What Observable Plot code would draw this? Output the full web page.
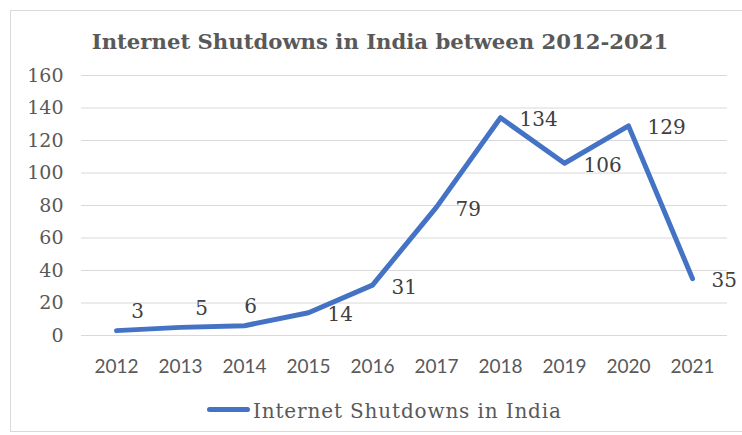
<!DOCTYPE html>
<html>
<head>
<meta charset="utf-8">
<script src="https://cdn.jsdelivr.net/npm/d3@7"></script>
<script src="https://cdn.jsdelivr.net/npm/@observablehq/plot@0.6"></script>
<style>
  html, body { margin: 0; padding: 0; background: #fff; }
  #wrap { position: relative; width: 742px; height: 435px; overflow: hidden; background: #fff; }
  #frame { position: absolute; left: 10px; top: 10px; width: 760px; height: 422px; border: 1px solid #d9d9d9; box-sizing: border-box; }
  #title { position: absolute; left: 0; width: 760px; top: 28px; text-align: center; font-family: "DejaVu Serif", serif; font-weight: bold; font-size: 21.2px; color: #595959; line-height: 28px; }
  #chart { position: absolute; left: 0; top: 55px; }
  #legend { position: absolute; left: 207px; top: 396px; height: 26px; display: flex; align-items: center; font-family: "DejaVu Serif", serif; font-size: 20px; letter-spacing: 0.85px; color: #595959; }
  #legend .sw { width: 43px; height: 5px; background: #4472C4; border-radius: 3px; margin-right: 3px; }
  #legendText { position: relative; top: 2px; }
</style>
</head>
<body>
<div id="wrap">
  <div id="frame"></div>
  <div id="title"></div>
  <div id="chart"></div>
  <div id="legend"><span class="sw"></span><span id="legendText"></span></div>
</div>
<script>
// ---- data ----
const titleText = "Internet Shutdowns in India between 2012-2021";
const seriesName = "Internet Shutdowns in India";
const years = ["2012", "2013", "2014", "2015", "2016", "2017", "2018", "2019", "2020", "2021"];
const shutdowns = [3, 5, 6, 14, 31, 79, 134, 106, 129, 35];
const yTicks = [0, 20, 40, 60, 80, 100, 120, 140, 160];

// ---- build ----
document.getElementById("title").textContent = titleText;
document.getElementById("legendText").textContent = seriesName;

const rows = years.map((y, i) => ({year: y, value: shutdowns[i]}));

// Excel-like label placement: small early values sit above, others to the right
const aboveLabels = {"2012": 21, "2013": 21, "2014": 6};
const rightRows = rows.filter(d => !(d.year in aboveLabels));
const aboveRows = rows.filter(d => d.year in aboveLabels);

const serif = "DejaVu Serif";
const grey = "#595959";

const chart = Plot.plot({
  width: 742,
  height: 330,
  marginTop: 20,
  marginBottom: 50,
  marginLeft: 81,
  marginRight: 15,
  style: {background: "transparent", overflow: "visible"},
  x: {type: "point", domain: years, padding: 0.5, label: null},
  y: {domain: [0, 160], label: null},
  marks: [
    Plot.ruleY(yTicks, {stroke: "#d9d9d9", strokeWidth: 1}),
    Plot.axisY({ticks: yTicks, tickSize: 0, tickPadding: 18, label: null,
      fontFamily: serif, fontSize: 19, fill: grey}),
    Plot.axisX({tickSize: 0, tickPadding: 24, label: null,
      fontFamily: "Lato", fontSize: 19, fill: grey}),
    Plot.line(rows, {x: "year", y: "value", stroke: "#4472C4", strokeWidth: 5,
      strokeLinecap: "round", strokeLinejoin: "round"}),
    Plot.text(rightRows, {x: "year", y: "value", text: d => String(d.value),
      textAnchor: "start", dx: 19, dy: 2, fontFamily: serif, fontSize: 20, fill: "#404040"}),
    ...aboveRows.map(d => Plot.text([d], {x: "year", y: "value", text: r => String(r.value),
      textAnchor: "middle", dx: aboveLabels[d.year], dy: -19, fontFamily: serif, fontSize: 20, fill: "#404040"}))
  ]
});
document.getElementById("chart").appendChild(chart);
</script>
</body>
</html>
